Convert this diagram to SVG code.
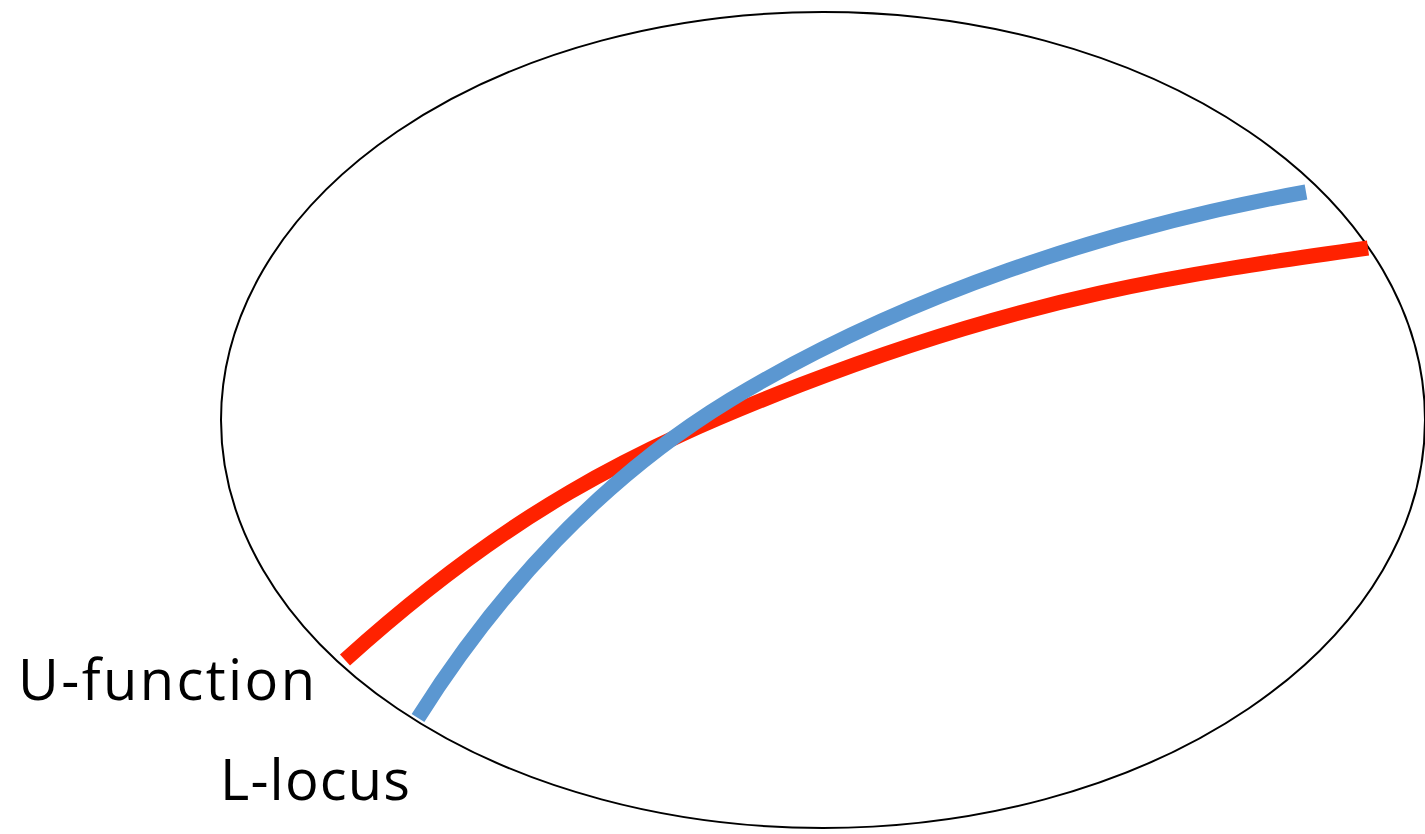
<svg xmlns="http://www.w3.org/2000/svg" width="1425" height="834" viewBox="0 0 1425 834">
<style>
.curve{fill:none;stroke-width:15;stroke-linecap:butt}
.lbl{font-family:"Open Sans","Liberation Sans",sans-serif;font-size:56px;fill:#000}
</style>
<rect width="1425" height="834" fill="#fff"/>
<g id="boundary"><ellipse cx="823" cy="420" rx="602" ry="408" fill="none" stroke="#000" stroke-width="2"/></g>
<g id="connectors">
<path id="u-curve" class="curve" stroke="#ff2200" d="M345,660 C508,513 630,451 800,385 C1030,296 1180,274.6 1368,248"/>
<path id="l-curve" class="curve" stroke="#5b97d1" d="M418,718 C498,591 602,478 730,400 C901,296.4 1109,227.4 1306,192"/>
</g>
<g id="u-label"><text class="lbl" x="18" y="700" textLength="297">U-function</text></g>
<g id="l-label"><text class="lbl" x="220" y="800" textLength="190">L-locus</text></g>
</svg>
